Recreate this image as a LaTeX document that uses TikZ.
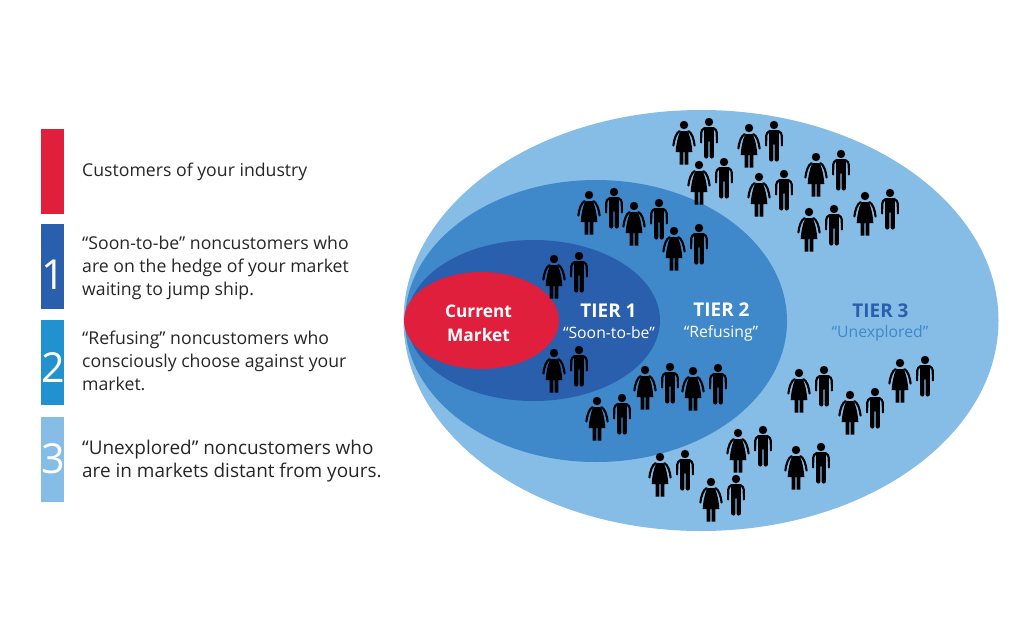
\documentclass[tikz,border=0pt]{standalone}
\usepackage{fontspec}
\setmainfont{Open Sans}
\definecolor{redmarket}{HTML}{E01F3D}
\definecolor{tieronecol}{HTML}{2A5FAD}
\definecolor{tiertwocol}{HTML}{3F88C9}
\definecolor{tierthreecol}{HTML}{85BDE6}
\definecolor{bartwocol}{HTML}{2291D0}
\definecolor{textcol}{HTML}{262626}
\tikzset{
  woman/.pic={
    \fill (0,0) circle (4.2);
    \fill (-3.5,6.2)--(3.5,6.2) .. controls (6,10) and (8,20) .. (8.3,27)--(4.4,27)--(4.4,39.5)--(.6,39.5)--(.6,27)--(-.6,27)--(-.6,39.5)--(-4.4,39.5)--(-4.4,27)--(-8.3,27) .. controls (-8,20) and (-6,10) .. cycle;
    \draw[line width=1.6pt,line cap=round] (-4.5,6.2) .. controls (-7.5,7.5) and (-10,14) .. (-10.6,20.5);
    \draw[line width=1.6pt,line cap=round] (4.5,6.2) .. controls (7.5,7.5) and (10,14) .. (10.6,20.5);
  },
  man/.pic={
    \fill (0,0) circle (4.2);
    \fill[rounded corners=1.5] (-6,5.2)--(6,5.2)--(4.8,8)--(4.8,36.5)--(.6,36.5)--(.6,18)--(-.6,18)--(-.6,36.5)--(-4.8,36.5)--(-4.8,8)--cycle;
    \draw[line width=1.6pt,line cap=round,rounded corners=2.5] (-4,6)--(-7.7,7.2)--(-7.9,20.5);
    \draw[line width=1.6pt,line cap=round,rounded corners=2.5] (4,6)--(7.7,7.2)--(7.9,20.5);
  },
  legendtext/.style={anchor=west,align=left,text=textcol,font=\fontsize{13.25}{17.25}\selectfont},
  bardigit/.style={text=white,font=\fontsize{31}{31}\selectfont},
  tiername/.style={font=\fontsize{14.2}{17}\selectfont\bfseries},
  tiernick/.style={font=\fontsize{11.8}{14}\selectfont}
}
\begin{document}
\begin{tikzpicture}[x=.75pt,y=-.75pt]
\useasboundingbox (0,0) rectangle (1024,639);
\fill[redmarket] (41,129) rectangle (64,214);
\fill[tieronecol] (41,224) rectangle (64,309);
\fill[bartwocol] (41,320) rectangle (64,405);
\fill[tierthreecol] (41,417) rectangle (64,502);
\node[bardigit] (digitone) at (53,275) {1};
\node[bardigit] (digittwo) at (53,368) {2};
\node[bardigit] (digitthree) at (53,459) {3};
\node[legendtext] (industry) at (77.5,172) {Customers of your industry};
\node[legendtext] (soon) at (77.5,268) {“Soon-to-be” noncustomers who\\are on the hedge of your market\\waiting to jump ship.};
\node[legendtext] (refusing) at (77.5,361) {“Refusing” noncustomers who\\consciously choose against your\\market.};
\node[legendtext,font=\fontsize{14.2}{17.25}\selectfont] (unexplored) at (77.5,461) {“Unexplored” noncustomers who\\are in markets distant from yours.};
\fill[tierthreecol] (701,320.5) ellipse (297.5 and 210.5);
\fill[tiertwocol] (596,321) ellipse (191 and 141);
\fill[tieronecol] (533.5,320.5) ellipse (126.5 and 80.5);
\fill[redmarket] (481.5,320.5) ellipse (77.5 and 48.5);
\foreach \x/\y in {684/125,749/128,699/165,759/177,816/157,809/212,865/196,589/195,634/206,674/231,554/259,554/353,645/370,693/371,597/401,799/373,900/363,850/395,738/433,796/450,660/457,711/482}{
  \pic at (\x,\y) {woman};
  \pic at ({\x+25},{\y-3}) {man};
}
\node[white,align=center,font=\fontsize{13}{18}\selectfont\bfseries] (current) at (478.5,323) {Current\\Market};
\node[white,tiername] (tierone) at (608.5,311) {TIER 1};
\node[white,tiernick] (nickone) at (609,333) {“Soon-to-be”};
\node[white,tiername] (tiertwo) at (721.5,310) {TIER 2};
\node[white,tiernick] (nicktwo) at (721,333) {“Refusing”};
\node[tieronecol,tiername] (tierthree) at (880.5,311) {TIER 3};
\node[tiertwocol,tiernick] (nickthree) at (880,333) {“Unexplored”};
\end{tikzpicture}
\end{document}
